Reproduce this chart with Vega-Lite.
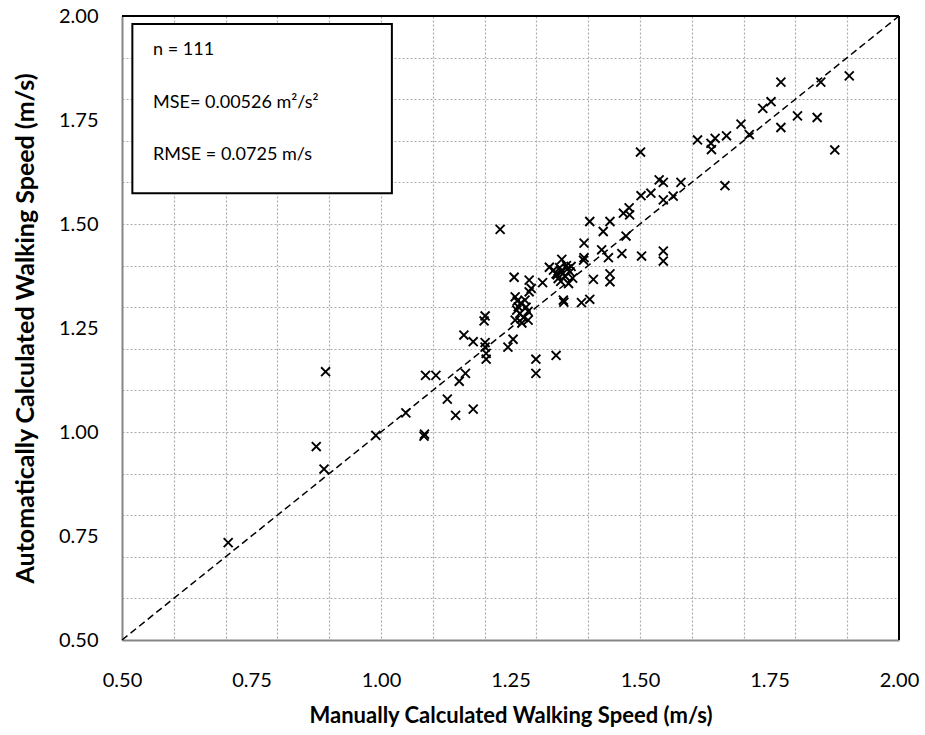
{
  "$schema": "https://vega.github.io/schema/vega-lite/v6.json",
  "width": 777,
  "height": 624,
  "autosize": {"type": "none"},
  "padding": {"left": 122, "top": 16, "right": 26, "bottom": 95},
  "background": "white",
  "config": {
    "view": {"stroke": null},
    "font": "Lato",
    "axis": {
      "labelFont": "Lato",
      "labelFontSize": 20,
      "labelColor": "#000000",
      "titleFont": "Lato",
      "titleFontSize": 22,
      "titleFontWeight": "bold",
      "titleColor": "#000000",
      "ticks": false,
      "tickSize": 0,
      "labelFlush": false,
      "labelOverlap": false,
      "domainColor": "#868686",
      "domainWidth": 2,
      "gridColor": "#ababab",
      "gridDash": [2, 2],
      "gridWidth": 1.2
    }
  },
  "resolve": {"axis": {"x": "independent", "y": "independent"}},
  "datasets": {
    "pts": [
      {"manual": 0.705, "auto": 0.734},
      {"manual": 0.875, "auto": 0.965},
      {"manual": 0.890, "auto": 0.911},
      {"manual": 0.893, "auto": 1.145},
      {"manual": 0.990, "auto": 0.992},
      {"manual": 1.048, "auto": 1.046},
      {"manual": 1.083, "auto": 0.990},
      {"manual": 1.084, "auto": 0.995},
      {"manual": 1.086, "auto": 1.136},
      {"manual": 1.106, "auto": 1.136},
      {"manual": 1.128, "auto": 1.079},
      {"manual": 1.144, "auto": 1.040},
      {"manual": 1.151, "auto": 1.122},
      {"manual": 1.163, "auto": 1.141},
      {"manual": 1.178, "auto": 1.055},
      {"manual": 1.160, "auto": 1.233},
      {"manual": 1.178, "auto": 1.217},
      {"manual": 1.201, "auto": 1.279},
      {"manual": 1.199, "auto": 1.267},
      {"manual": 1.201, "auto": 1.215},
      {"manual": 1.201, "auto": 1.204},
      {"manual": 1.203, "auto": 1.189},
      {"manual": 1.203, "auto": 1.175},
      {"manual": 1.245, "auto": 1.204},
      {"manual": 1.255, "auto": 1.223},
      {"manual": 1.299, "auto": 1.175},
      {"manual": 1.299, "auto": 1.141},
      {"manual": 1.338, "auto": 1.184},
      {"manual": 1.230, "auto": 1.487},
      {"manual": 1.257, "auto": 1.372},
      {"manual": 1.286, "auto": 1.365},
      {"manual": 1.286, "auto": 1.337},
      {"manual": 1.259, "auto": 1.325},
      {"manual": 1.278, "auto": 1.317},
      {"manual": 1.265, "auto": 1.301},
      {"manual": 1.262, "auto": 1.293},
      {"manual": 1.284, "auto": 1.290},
      {"manual": 1.259, "auto": 1.269},
      {"manual": 1.284, "auto": 1.269},
      {"manual": 1.270, "auto": 1.310},
      {"manual": 1.268, "auto": 1.285},
      {"manual": 1.275, "auto": 1.275},
      {"manual": 1.312, "auto": 1.359},
      {"manual": 1.349, "auto": 1.415},
      {"manual": 1.333, "auto": 1.389},
      {"manual": 1.349, "auto": 1.385},
      {"manual": 1.365, "auto": 1.385},
      {"manual": 1.342, "auto": 1.369},
      {"manual": 1.362, "auto": 1.357},
      {"manual": 1.352, "auto": 1.317},
      {"manual": 1.353, "auto": 1.312},
      {"manual": 1.325, "auto": 1.396},
      {"manual": 1.340, "auto": 1.378},
      {"manual": 1.355, "auto": 1.375},
      {"manual": 1.345, "auto": 1.395},
      {"manual": 1.358, "auto": 1.400},
      {"manual": 1.370, "auto": 1.370},
      {"manual": 1.387, "auto": 1.311},
      {"manual": 1.403, "auto": 1.319},
      {"manual": 1.391, "auto": 1.413},
      {"manual": 1.392, "auto": 1.419},
      {"manual": 1.392, "auto": 1.454},
      {"manual": 1.410, "auto": 1.367},
      {"manual": 1.426, "auto": 1.438},
      {"manual": 1.439, "auto": 1.419},
      {"manual": 1.442, "auto": 1.380},
      {"manual": 1.442, "auto": 1.361},
      {"manual": 1.465, "auto": 1.429},
      {"manual": 1.403, "auto": 1.506},
      {"manual": 1.442, "auto": 1.506},
      {"manual": 1.429, "auto": 1.482},
      {"manual": 1.473, "auto": 1.471},
      {"manual": 1.468, "auto": 1.526},
      {"manual": 1.479, "auto": 1.539},
      {"manual": 1.480, "auto": 1.522},
      {"manual": 1.503, "auto": 1.423},
      {"manual": 1.545, "auto": 1.435},
      {"manual": 1.545, "auto": 1.411},
      {"manual": 1.502, "auto": 1.568},
      {"manual": 1.521, "auto": 1.574},
      {"manual": 1.537, "auto": 1.606},
      {"manual": 1.545, "auto": 1.600},
      {"manual": 1.545, "auto": 1.558},
      {"manual": 1.564, "auto": 1.567},
      {"manual": 1.579, "auto": 1.600},
      {"manual": 1.501, "auto": 1.673},
      {"manual": 1.611, "auto": 1.702},
      {"manual": 1.637, "auto": 1.694},
      {"manual": 1.638, "auto": 1.679},
      {"manual": 1.645, "auto": 1.706},
      {"manual": 1.667, "auto": 1.712},
      {"manual": 1.664, "auto": 1.592},
      {"manual": 1.695, "auto": 1.740},
      {"manual": 1.711, "auto": 1.715},
      {"manual": 1.737, "auto": 1.778},
      {"manual": 1.753, "auto": 1.794},
      {"manual": 1.772, "auto": 1.841},
      {"manual": 1.772, "auto": 1.732},
      {"manual": 1.804, "auto": 1.760},
      {"manual": 1.842, "auto": 1.756},
      {"manual": 1.849, "auto": 1.841},
      {"manual": 1.876, "auto": 1.678},
      {"manual": 1.904, "auto": 1.856},
      {"manual": 1.263, "auto": 1.315},
      {"manual": 1.280, "auto": 1.300},
      {"manual": 1.272, "auto": 1.262},
      {"manual": 1.338, "auto": 1.380},
      {"manual": 1.360, "auto": 1.392},
      {"manual": 1.347, "auto": 1.362},
      {"manual": 1.367, "auto": 1.398},
      {"manual": 1.290, "auto": 1.345}
    ]
  },
  "layer": [
    {
      "data": {"name": "pts"},
      "mark": {"type": "point", "opacity": 0},
      "encoding": {
        "x": {
          "field": "manual", "type": "quantitative",
          "scale": {"domain": [0.5, 2], "nice": false, "zero": false},
          "axis": {
            "orient": "bottom",
            "title": null,
            "grid": true,
            "labels": false,
            "domain": false,
            "values": [0.6, 0.7, 0.8, 0.9, 1.0, 1.1, 1.2, 1.3, 1.4, 1.5, 1.6, 1.7, 1.8, 1.9]
          }
        },
        "y": {
          "field": "auto", "type": "quantitative",
          "scale": {"domain": [0.5, 2], "nice": false, "zero": false},
          "axis": {
            "orient": "left",
            "title": null,
            "grid": true,
            "labels": false,
            "domain": false,
            "values": [0.6, 0.7, 0.8, 0.9, 1.0, 1.1, 1.2, 1.3, 1.4, 1.5, 1.6, 1.7, 1.8, 1.9]
          }
        }
      }
    },
    {
      "data": {"values": [{}]},
      "mark": {"type": "rule", "color": "#000000", "strokeWidth": 1.5, "strokeDash": [7, 4]},
      "encoding": {
        "x": {"datum": 0.5, "type": "quantitative", "axis": null},
        "y": {"datum": 0.5, "type": "quantitative", "axis": null},
        "x2": {"datum": 2},
        "y2": {"datum": 2}
      }
    },
    {
      "data": {"values": [{}]},
      "mark": {"type": "rule", "color": "#000000", "strokeWidth": 2},
      "encoding": {
        "x": {"datum": 0.5, "type": "quantitative", "axis": null},
        "x2": {"datum": 2},
        "y": {"datum": 2, "type": "quantitative", "axis": null}
      }
    },
    {
      "data": {"values": [{}]},
      "mark": {"type": "rule", "color": "#000000", "strokeWidth": 2},
      "encoding": {
        "x": {"datum": 2, "type": "quantitative", "axis": null},
        "y": {"datum": 0.5, "type": "quantitative", "axis": null},
        "y2": {"datum": 2}
      }
    },
    {
      "data": {"name": "pts"},
      "mark": {"type": "point", "shape": "M-1,-1L1,1M-1,1L1,-1", "size": 80, "filled": false, "stroke": "#000000", "strokeWidth": 1.9, "opacity": 1},
      "encoding": {
        "x": {
          "field": "manual", "type": "quantitative",
          "axis": {
            "orient": "bottom",
            "title": "Manually Calculated Walking Speed (m/s)",
            "grid": false,
            "values": [0.5, 0.75, 1.0, 1.25, 1.5, 1.75, 2.0],
            "format": ".2f",
            "labelPadding": 30,
            "titlePadding": 15
          }
        },
        "y": {
          "field": "auto", "type": "quantitative",
          "axis": {
            "orient": "left",
            "title": "Automatically Calculated  Walking Speed (m/s)",
            "titleFontSize": 25,
            "grid": false,
            "values": [0.5, 0.75, 1.0, 1.25, 1.5, 1.75, 2.0],
            "format": ".2f",
            "labelPadding": 24,
            "titlePadding": 20
          }
        }
      }
    },
    {
      "data": {"values": [{}]},
      "mark": {"type": "rect", "fill": "#ffffff", "stroke": "#000000", "strokeWidth": 2},
      "encoding": {
        "x": {"datum": 0.52, "type": "quantitative", "axis": null},
        "x2": {"datum": 1.021},
        "y": {"datum": 1.981, "type": "quantitative", "axis": null},
        "y2": {"datum": 1.574}
      }
    },
    {
      "data": {"values": [{"lines": ["n = 111", "MSE= 0.00526 m²/s²", "RMSE = 0.0725 m/s"]}]},
      "mark": {"type": "text", "align": "left", "baseline": "alphabetic", "fontSize": 18, "font": "Lato", "color": "#000000", "lineHeight": 52.5},
      "encoding": {
        "x": {"datum": 0.56, "type": "quantitative", "axis": null},
        "y": {"datum": 1.906, "type": "quantitative", "axis": null},
        "text": {"field": "lines"}
      }
    }
  ]
}
